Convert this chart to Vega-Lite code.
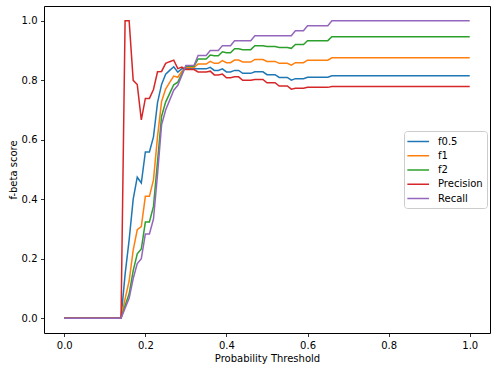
{
"$schema": "https://vega.github.io/schema/vega-lite/v6.json",
"width": 446, "height": 327,
"autosize": {"type": "none"},
"padding": {"left": 44, "top": 6, "right": 7, "bottom": 38},
"background": "white",
"data": {"values": [
{"t":0.00,"f05":0,"f1":0,"f2":0,"Precision":0,"Recall":0},
{"t":0.01,"f05":0,"f1":0,"f2":0,"Precision":0,"Recall":0},
{"t":0.02,"f05":0,"f1":0,"f2":0,"Precision":0,"Recall":0},
{"t":0.03,"f05":0,"f1":0,"f2":0,"Precision":0,"Recall":0},
{"t":0.04,"f05":0,"f1":0,"f2":0,"Precision":0,"Recall":0},
{"t":0.05,"f05":0,"f1":0,"f2":0,"Precision":0,"Recall":0},
{"t":0.06,"f05":0,"f1":0,"f2":0,"Precision":0,"Recall":0},
{"t":0.07,"f05":0,"f1":0,"f2":0,"Precision":0,"Recall":0},
{"t":0.08,"f05":0,"f1":0,"f2":0,"Precision":0,"Recall":0},
{"t":0.09,"f05":0,"f1":0,"f2":0,"Precision":0,"Recall":0},
{"t":0.10,"f05":0,"f1":0,"f2":0,"Precision":0,"Recall":0},
{"t":0.11,"f05":0,"f1":0,"f2":0,"Precision":0,"Recall":0},
{"t":0.12,"f05":0,"f1":0,"f2":0,"Precision":0,"Recall":0},
{"t":0.13,"f05":0,"f1":0,"f2":0,"Precision":0,"Recall":0},
{"t":0.14,"f05":0,"f1":0,"f2":0,"Precision":0,"Recall":0},
{"t":0.15,"f05":0.1471,"f1":0.0645,"f2":0.0413,"Precision":1,"Recall":0.0333},
{"t":0.16,"f05":0.2632,"f1":0.125,"f2":0.082,"Precision":1,"Recall":0.0667},
{"t":0.17,"f05":0.4,"f1":0.2286,"f2":0.16,"Precision":0.8,"Recall":0.1333},
{"t":0.18,"f05":0.4741,"f1":0.2973,"f2":0.2165,"Precision":0.7857,"Recall":0.1833},
{"t":0.19,"f05":0.4545,"f1":0.3077,"f2":0.2326,"Precision":0.6667,"Recall":0.2},
{"t":0.20,"f05":0.5592,"f1":0.4096,"f2":0.3232,"Precision":0.7391,"Recall":0.2833},
{"t":0.21,"f05":0.5592,"f1":0.4096,"f2":0.3232,"Precision":0.7391,"Recall":0.2833},
{"t":0.22,"f05":0.6098,"f1":0.4651,"f2":0.3759,"Precision":0.7692,"Recall":0.3333},
{"t":0.23,"f05":0.725,"f1":0.6105,"f2":0.5273,"Precision":0.8286,"Recall":0.4833},
{"t":0.24,"f05":0.7863,"f1":0.729,"f2":0.6794,"Precision":0.8298,"Recall":0.65},
{"t":0.25,"f05":0.8203,"f1":0.7706,"f2":0.7266,"Precision":0.8571,"Recall":0.7},
{"t":0.26,"f05":0.8333,"f1":0.7928,"f2":0.756,"Precision":0.8627,"Recall":0.7333},
{"t":0.27,"f05":0.8456,"f1":0.8142,"f2":0.785,"Precision":0.8679,"Recall":0.7667},
{"t":0.28,"f05":0.8275,"f1":0.8103,"f2":0.7939,"Precision":0.8393,"Recall":0.7833},
{"t":0.29,"f05":0.839,"f1":0.8305,"f2":0.8221,"Precision":0.8448,"Recall":0.8167},
{"t":0.30,"f05":0.8388,"f1":0.843,"f2":0.8472,"Precision":0.8361,"Recall":0.85},
{"t":0.31,"f05":0.8388,"f1":0.843,"f2":0.8472,"Precision":0.8361,"Recall":0.85},
{"t":0.32,"f05":0.8388,"f1":0.843,"f2":0.8472,"Precision":0.8361,"Recall":0.85},
{"t":0.33,"f05":0.8386,"f1":0.8548,"f2":0.8717,"Precision":0.8281,"Recall":0.8833},
{"t":0.34,"f05":0.8386,"f1":0.8548,"f2":0.8717,"Precision":0.8281,"Recall":0.8833},
{"t":0.35,"f05":0.8386,"f1":0.8548,"f2":0.8717,"Precision":0.8281,"Recall":0.8833},
{"t":0.36,"f05":0.8438,"f1":0.864,"f2":0.8852,"Precision":0.8308,"Recall":0.9},
{"t":0.37,"f05":0.8333,"f1":0.8571,"f2":0.8824,"Precision":0.8182,"Recall":0.9},
{"t":0.38,"f05":0.8333,"f1":0.8571,"f2":0.8824,"Precision":0.8182,"Recall":0.9},
{"t":0.39,"f05":0.8384,"f1":0.8661,"f2":0.8958,"Precision":0.8209,"Recall":0.9167},
{"t":0.40,"f05":0.8283,"f1":0.8594,"f2":0.8929,"Precision":0.8088,"Recall":0.9167},
{"t":0.41,"f05":0.8283,"f1":0.8594,"f2":0.8929,"Precision":0.8088,"Recall":0.9167},
{"t":0.42,"f05":0.8333,"f1":0.8682,"f2":0.9061,"Precision":0.8116,"Recall":0.9333},
{"t":0.43,"f05":0.8333,"f1":0.8682,"f2":0.9061,"Precision":0.8116,"Recall":0.9333},
{"t":0.44,"f05":0.8235,"f1":0.8615,"f2":0.9032,"Precision":0.8,"Recall":0.9333},
{"t":0.45,"f05":0.8235,"f1":0.8615,"f2":0.9032,"Precision":0.8,"Recall":0.9333},
{"t":0.46,"f05":0.8235,"f1":0.8615,"f2":0.9032,"Precision":0.8,"Recall":0.9333},
{"t":0.47,"f05":0.8285,"f1":0.8702,"f2":0.9164,"Precision":0.8028,"Recall":0.95},
{"t":0.48,"f05":0.8285,"f1":0.8702,"f2":0.9164,"Precision":0.8028,"Recall":0.95},
{"t":0.49,"f05":0.8285,"f1":0.8702,"f2":0.9164,"Precision":0.8028,"Recall":0.95},
{"t":0.50,"f05":0.819,"f1":0.8636,"f2":0.9135,"Precision":0.7917,"Recall":0.95},
{"t":0.51,"f05":0.819,"f1":0.8636,"f2":0.9135,"Precision":0.7917,"Recall":0.95},
{"t":0.52,"f05":0.819,"f1":0.8636,"f2":0.9135,"Precision":0.7917,"Recall":0.95},
{"t":0.53,"f05":0.8097,"f1":0.8571,"f2":0.9105,"Precision":0.7808,"Recall":0.95},
{"t":0.54,"f05":0.8097,"f1":0.8571,"f2":0.9105,"Precision":0.7808,"Recall":0.95},
{"t":0.55,"f05":0.8097,"f1":0.8571,"f2":0.9105,"Precision":0.7808,"Recall":0.95},
{"t":0.56,"f05":0.8006,"f1":0.8507,"f2":0.9076,"Precision":0.7703,"Recall":0.95},
{"t":0.57,"f05":0.8056,"f1":0.8593,"f2":0.9206,"Precision":0.7733,"Recall":0.9667},
{"t":0.58,"f05":0.8056,"f1":0.8593,"f2":0.9206,"Precision":0.7733,"Recall":0.9667},
{"t":0.59,"f05":0.8056,"f1":0.8593,"f2":0.9206,"Precision":0.7733,"Recall":0.9667},
{"t":0.60,"f05":0.8104,"f1":0.8676,"f2":0.9335,"Precision":0.7763,"Recall":0.9833},
{"t":0.61,"f05":0.8104,"f1":0.8676,"f2":0.9335,"Precision":0.7763,"Recall":0.9833},
{"t":0.62,"f05":0.8104,"f1":0.8676,"f2":0.9335,"Precision":0.7763,"Recall":0.9833},
{"t":0.63,"f05":0.8104,"f1":0.8676,"f2":0.9335,"Precision":0.7763,"Recall":0.9833},
{"t":0.64,"f05":0.8104,"f1":0.8676,"f2":0.9335,"Precision":0.7763,"Recall":0.9833},
{"t":0.65,"f05":0.8104,"f1":0.8676,"f2":0.9335,"Precision":0.7763,"Recall":0.9833},
{"t":0.66,"f05":0.8152,"f1":0.8759,"f2":0.9464,"Precision":0.7792,"Recall":1},
{"t":0.67,"f05":0.8152,"f1":0.8759,"f2":0.9464,"Precision":0.7792,"Recall":1},
{"t":0.68,"f05":0.8152,"f1":0.8759,"f2":0.9464,"Precision":0.7792,"Recall":1},
{"t":0.69,"f05":0.8152,"f1":0.8759,"f2":0.9464,"Precision":0.7792,"Recall":1},
{"t":0.70,"f05":0.8152,"f1":0.8759,"f2":0.9464,"Precision":0.7792,"Recall":1},
{"t":0.71,"f05":0.8152,"f1":0.8759,"f2":0.9464,"Precision":0.7792,"Recall":1},
{"t":0.72,"f05":0.8152,"f1":0.8759,"f2":0.9464,"Precision":0.7792,"Recall":1},
{"t":0.73,"f05":0.8152,"f1":0.8759,"f2":0.9464,"Precision":0.7792,"Recall":1},
{"t":0.74,"f05":0.8152,"f1":0.8759,"f2":0.9464,"Precision":0.7792,"Recall":1},
{"t":0.75,"f05":0.8152,"f1":0.8759,"f2":0.9464,"Precision":0.7792,"Recall":1},
{"t":0.76,"f05":0.8152,"f1":0.8759,"f2":0.9464,"Precision":0.7792,"Recall":1},
{"t":0.77,"f05":0.8152,"f1":0.8759,"f2":0.9464,"Precision":0.7792,"Recall":1},
{"t":0.78,"f05":0.8152,"f1":0.8759,"f2":0.9464,"Precision":0.7792,"Recall":1},
{"t":0.79,"f05":0.8152,"f1":0.8759,"f2":0.9464,"Precision":0.7792,"Recall":1},
{"t":0.80,"f05":0.8152,"f1":0.8759,"f2":0.9464,"Precision":0.7792,"Recall":1},
{"t":0.81,"f05":0.8152,"f1":0.8759,"f2":0.9464,"Precision":0.7792,"Recall":1},
{"t":0.82,"f05":0.8152,"f1":0.8759,"f2":0.9464,"Precision":0.7792,"Recall":1},
{"t":0.83,"f05":0.8152,"f1":0.8759,"f2":0.9464,"Precision":0.7792,"Recall":1},
{"t":0.84,"f05":0.8152,"f1":0.8759,"f2":0.9464,"Precision":0.7792,"Recall":1},
{"t":0.85,"f05":0.8152,"f1":0.8759,"f2":0.9464,"Precision":0.7792,"Recall":1},
{"t":0.86,"f05":0.8152,"f1":0.8759,"f2":0.9464,"Precision":0.7792,"Recall":1},
{"t":0.87,"f05":0.8152,"f1":0.8759,"f2":0.9464,"Precision":0.7792,"Recall":1},
{"t":0.88,"f05":0.8152,"f1":0.8759,"f2":0.9464,"Precision":0.7792,"Recall":1},
{"t":0.89,"f05":0.8152,"f1":0.8759,"f2":0.9464,"Precision":0.7792,"Recall":1},
{"t":0.90,"f05":0.8152,"f1":0.8759,"f2":0.9464,"Precision":0.7792,"Recall":1},
{"t":0.91,"f05":0.8152,"f1":0.8759,"f2":0.9464,"Precision":0.7792,"Recall":1},
{"t":0.92,"f05":0.8152,"f1":0.8759,"f2":0.9464,"Precision":0.7792,"Recall":1},
{"t":0.93,"f05":0.8152,"f1":0.8759,"f2":0.9464,"Precision":0.7792,"Recall":1},
{"t":0.94,"f05":0.8152,"f1":0.8759,"f2":0.9464,"Precision":0.7792,"Recall":1},
{"t":0.95,"f05":0.8152,"f1":0.8759,"f2":0.9464,"Precision":0.7792,"Recall":1},
{"t":0.96,"f05":0.8152,"f1":0.8759,"f2":0.9464,"Precision":0.7792,"Recall":1},
{"t":0.97,"f05":0.8152,"f1":0.8759,"f2":0.9464,"Precision":0.7792,"Recall":1},
{"t":0.98,"f05":0.8152,"f1":0.8759,"f2":0.9464,"Precision":0.7792,"Recall":1},
{"t":0.99,"f05":0.8152,"f1":0.8759,"f2":0.9464,"Precision":0.7792,"Recall":1},
{"t":1.00,"f05":0.8152,"f1":0.8759,"f2":0.9464,"Precision":0.7792,"Recall":1}
]},
"transform": [{"fold": ["f05","f1","f2","Precision","Recall"], "as": ["series","value"]}],
"mark": {"type": "line", "strokeWidth": 1.5, "clip": false},
"encoding": {
  "x": {"field": "t", "type": "quantitative",
        "scale": {"domain": [-0.05, 1.05], "nice": false, "zero": false},
        "axis": {"title": "Probability Threshold", "values": [0, 0.2, 0.4, 0.6, 0.8, 1.0], "format": ".1f"}},
  "y": {"field": "value", "type": "quantitative",
        "scale": {"domain": [-0.05, 1.05], "nice": false, "zero": false},
        "axis": {"title": "f-beta score", "values": [0, 0.2, 0.4, 0.6, 0.8, 1.0], "format": ".1f"}},
  "color": {"field": "series", "type": "nominal",
        "scale": {"domain": ["f05","f1","f2","Precision","Recall"], "range": ["#1f77b4","#ff7f0e","#2ca02c","#d62728","#9467bd"]},
        "legend": {"title": null, "orient": "none", "legendX": 360, "legendY": 125,
                   "symbolType": "M-1.3,0H2.65", "symbolSize": 121, "symbolStrokeWidth": 1.5,
                   "labelFont": "DejaVu Sans", "labelFontSize": 10, "labelColor": "black",
                   "labelOffset": 17, "rowPadding": 2.25, "padding": 4, "cornerRadius": 3,
                   "strokeColor": "#cccccc", "fillColor": "white",
                   "labelExpr": "datum.label == 'f05' ? 'f0.5' : datum.label"}}
},
"config": {
  "view": {"stroke": "black", "strokeWidth": 1},
  "axis": {"grid": false, "domain": false, "ticks": true, "tickColor": "black", "tickSize": 3.5, "tickWidth": 0.8,
           "labelColor": "black", "labelFont": "DejaVu Sans", "labelFontSize": 10, "labelPadding": 3.5,
           "titleFont": "DejaVu Sans", "titleFontSize": 10, "titleFontWeight": "normal", "titleColor": "black", "titlePadding": 3}
}
}
